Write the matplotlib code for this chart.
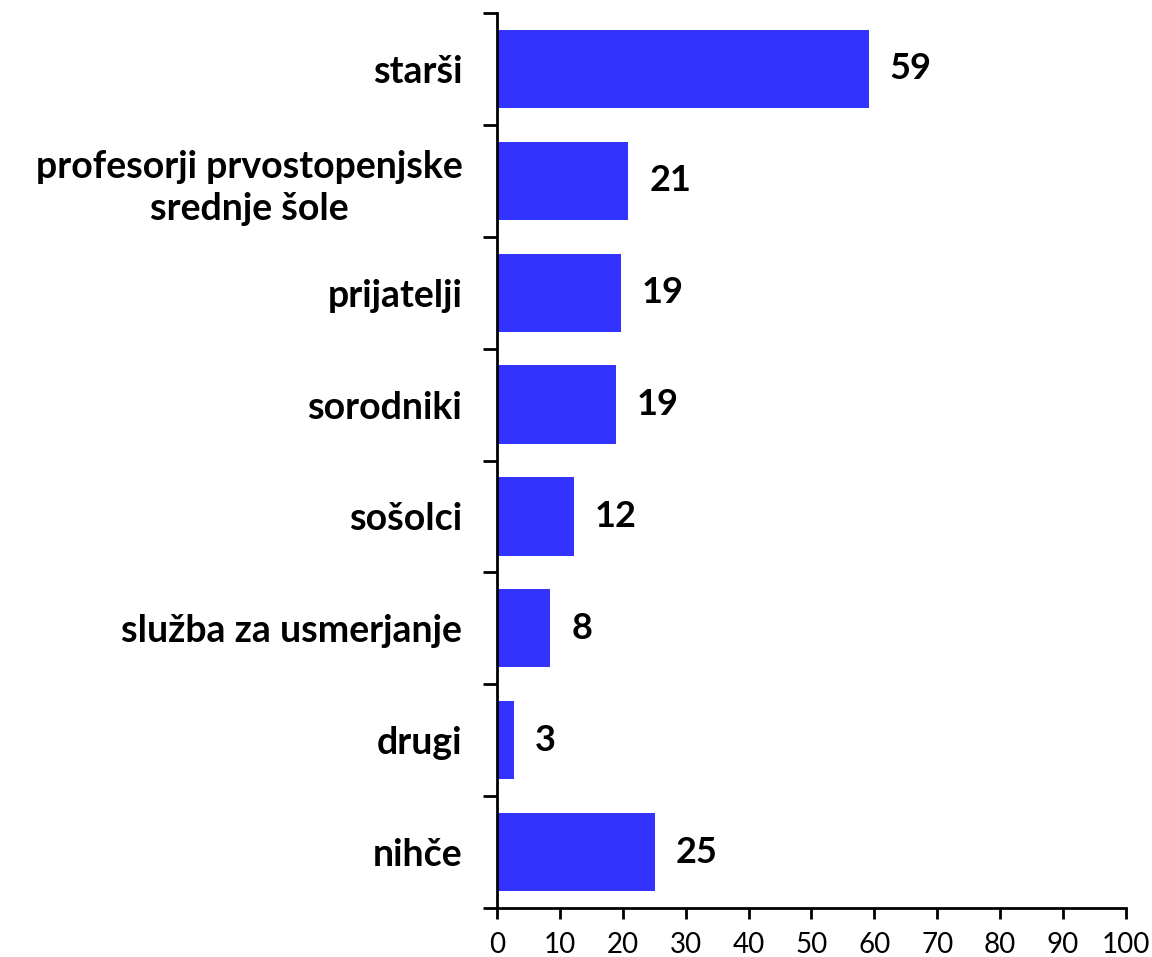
import matplotlib.pyplot as plt
import numpy as np

categories = [
    "starši",
    "profesorji prvostopenjske\nsrednje šole",
    "prijatelji",
    "sorodniki",
    "sošolci",
    "služba za usmerjanje",
    "drugi",
    "nihče",
]
values = [59.1, 20.9, 19.7, 18.9, 12.2, 8.5, 2.7, 25.1]
value_labels = ["59", "21", "19", "19", "12", "8", "3", "25"]
x_ticks = list(range(0, 101, 10))

plt.rcParams["font.family"] = ["Lato", "DejaVu Sans"]

fig = plt.figure(figsize=(11.52, 9.57), dpi=100)
ax = fig.add_axes([0.4314, 0.0512, 0.9774 - 0.4314, 0.9864 - 0.0512])

y = np.arange(len(categories))
ax.barh(y, values, height=0.7, color="#3333FF")

for yi, v, lab in zip(y, values, value_labels):
    ax.text(v + 3.3, yi, lab, va="center", ha="left",
            fontsize=26, fontweight="bold", color="black")

ax.set_xlim(0, 100)
ax.set_ylim(len(categories) - 0.5, -0.5)
ax.set_xticks(x_ticks)
ax.tick_params(axis="x", direction="out", length=8, width=2,
               labelsize=20, pad=9)

ax.set_yticks(y)
ax.set_yticklabels(categories, fontsize=27, fontweight="bold",
                   multialignment="center", linespacing=1.3)
ax.tick_params(axis="y", which="major", length=0, pad=25)
ax.set_yticks(np.arange(-0.5, len(categories), 1.0), minor=True)
ax.tick_params(axis="y", which="minor", direction="out", length=10, width=2)

for side in ("top", "right"):
    ax.spines[side].set_visible(False)
for side in ("left", "bottom"):
    ax.spines[side].set_linewidth(2)

fig.savefig("out.png", dpi=100)
